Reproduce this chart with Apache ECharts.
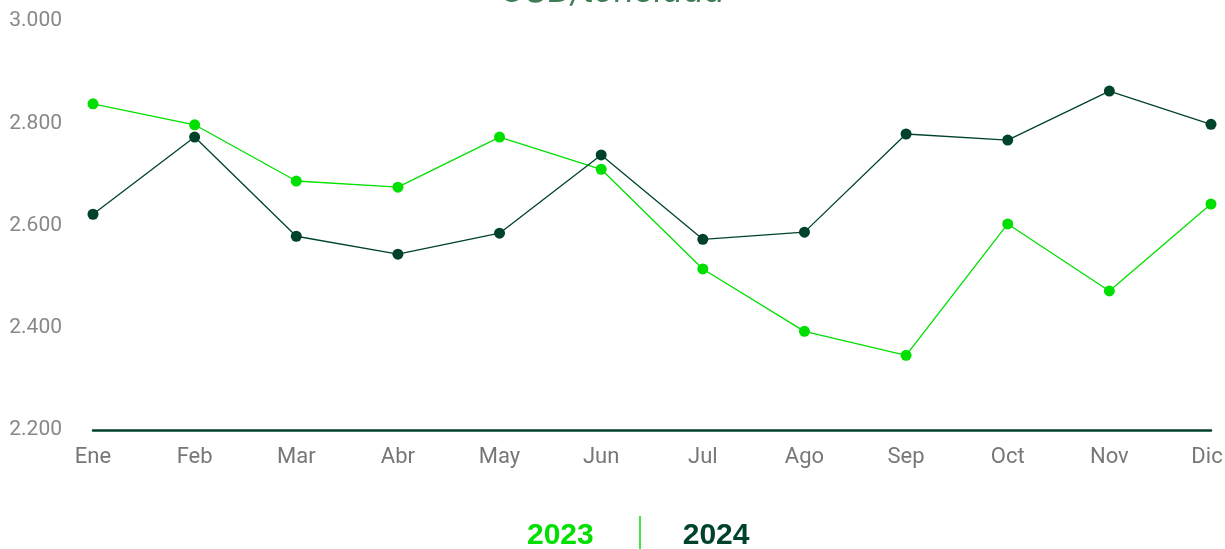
<!DOCTYPE html>
<html><head><meta charset="utf-8">
<script src="https://cdn.jsdelivr.net/npm/echarts@6/dist/echarts.min.js"></script>
<style>html,body{margin:0;padding:0;background:#fff}#c{width:1225px;height:549px}</style>
</head><body><div id="c"></div>
<script>
const months = ['Ene','Feb','Mar','Abr','May','Jun','Jul','Ago','Sep','Oct','Nov','Dic'];
const s2023 = [2838, 2797, 2687, 2675, 2773, 2710, 2515, 2393, 2346, 2603, 2472, 2642];
const s2024 = [2622, 2773, 2579, 2544, 2585, 2738, 2573, 2587, 2779, 2767, 2863, 2798];
const titleText = 'USD/tonelada';
const c2023 = '#00e000', c2024 = '#00432a';
const font = '"Liberation Sans Narrow", "Roboto", sans-serif';
const chart = echarts.init(document.getElementById('c'));
chart.setOption({
  animation: false,
  title: { text: titleText, left: 'center', top: -30, textStyle: { fontFamily: 'Inter, sans-serif', fontStyle: 'italic', fontWeight: 'normal', fontSize: 34, color: '#3f7d57' } },
  grid: { left: 93, right: 14, top: 21, bottom: 119, outerBoundsMode: 'none', containLabel: false },
  legend: {
    top: 516, left: 517, icon: 'none', itemGap: 84, itemWidth: 0,
    data: [
      { name: '2023', textStyle: { color: c2023 } },
      { name: '2024', textStyle: { color: c2024 } }
    ],
    textStyle: { fontFamily: 'Liberation Sans, Arial, sans-serif', fontWeight: 'bold', fontSize: 30 }
  },
  graphic: [{ type: 'line', shape: { x1: 640, y1: 516, x2: 640, y2: 549 }, style: { stroke: c2023, lineWidth: 1.5 } }],
  xAxis: {
    type: 'category', data: months, boundaryGap: false,
    axisLine: { lineStyle: { color: c2024, width: 2.5 } }, axisTick: { show: false },
    axisLabel: { color: '#777', fontSize: 22, fontFamily: font, margin: 16, interval: 0, hideOverlap: false,
      formatter: (v, i) => i === months.length - 1 ? '{last|' + v + '}' : v,
      rich: { last: { color: '#777', fontSize: 22, fontFamily: font, padding: [0, 8, 0, 0] } } }
  },
  yAxis: {
    type: 'value', min: 2200, max: 3000, interval: 200,
    splitLine: { show: false }, axisLine: { show: false }, axisTick: { show: false },
    axisLabel: { color: '#888', fontSize: 21, fontFamily: font, margin: 31,
      formatter: v => String(v).replace(/^(\d)(\d{3})$/, '$1.$2') }
  },
  series: [
    { name: '2023', type: 'line', data: s2023, color: c2023, symbol: 'circle', symbolSize: 11, lineStyle: { width: 1.3, color: c2023 }, itemStyle: { color: c2023 } },
    { name: '2024', type: 'line', data: s2024, color: c2024, symbol: 'circle', symbolSize: 11, lineStyle: { width: 1.3, color: c2024 }, itemStyle: { color: c2024 } }
  ]
});
</script></body></html>
